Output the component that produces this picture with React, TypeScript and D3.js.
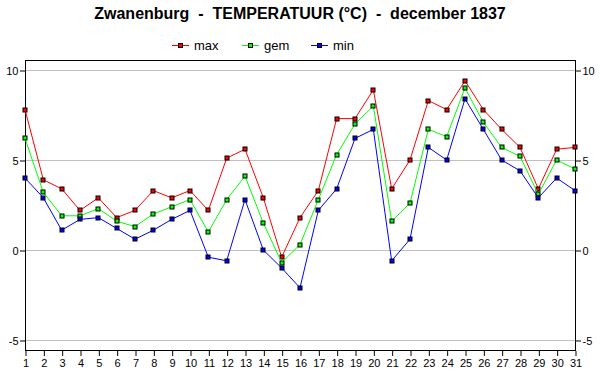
import React, { useEffect, useRef } from 'react';
import * as d3 from 'd3';

const days = d3.range(1, 32);
const maxTemp = [7.8, 3.9, 3.4, 2.2, 2.9, 1.8, 2.2, 3.3, 2.9, 3.3, 2.2, 5.1, 5.6, 2.9, -0.4, 1.8, 3.3, 7.3, 7.3, 8.9, 3.4, 5.0, 8.3, 7.8, 9.4, 7.8, 6.7, 5.7, 3.4, 5.6, 5.7];
const gemTemp = [6.2, 3.2, 1.9, 1.9, 2.3, 1.6, 1.3, 2.0, 2.4, 2.8, 1.0, 2.8, 4.1, 1.5, -0.7, 0.3, 2.8, 5.3, 7.0, 8.0, 1.6, 2.6, 6.7, 6.3, 9.0, 7.1, 5.7, 5.2, 3.1, 5.0, 4.5];
const minTemp = [4.0, 2.9, 1.1, 1.7, 1.8, 1.2, 0.6, 1.1, 1.7, 2.2, -0.4, -0.6, 2.8, 0.0, -1.0, -2.1, 2.2, 3.4, 6.2, 6.7, -0.6, 0.6, 5.7, 5.0, 8.4, 6.7, 5.0, 4.4, 2.9, 4.0, 3.3];
const yTicks = [-5, 0, 5, 10];

const series = [
  { name: 'max', color: '#ff0000', values: maxTemp },
  { name: 'gem', color: '#00ff00', values: gemTemp },
  { name: 'min', color: '#0000ff', values: minTemp },
];

const W = 600;
const H = 390;

const App: React.FC = () => {
  const svgRef = useRef<SVGSVGElement>(null);

  useEffect(() => {
    if (!svgRef.current) return;
    const root = d3.select(svgRef.current);
    root.selectAll('*').remove();

    const left = 25, right = 575, top = 60, bottom = 350;
    const font = '"Liberation Sans", Arial, sans-serif';

    const x = d3.scaleLinear().domain([1, 31]).range([left, right]);
    const y = d3.scaleLinear().domain([-5.556, 10.556]).range([bottom, top]);

    root.append('rect').attr('width', W).attr('height', H).attr('fill', '#ffffff');

    // title
    root.append('text')
      .attr('x', W / 2).attr('y', 19)
      .attr('text-anchor', 'middle')
      .attr('font-family', font).attr('font-size', 16).attr('font-weight', 'bold')
      .attr('fill', '#000')
      .style('white-space', 'pre')
      .text('Zwanenburg  -  TEMPERATUUR (°C)  -  december 1837');

    // legend
    const lg = root.append('g');
    const legendX = [172, 242, 311];
    series.forEach((s, i) => {
      const g = lg.append('g').attr('transform', `translate(${legendX[i]},45)`);
      g.append('line').attr('x1', 0).attr('x2', 17).attr('y1', 0.5).attr('y2', 0.5)
        .attr('stroke', s.color).attr('stroke-width', 1);
      g.append('rect').attr('x', 6.5).attr('y', -1.5).attr('width', 4).attr('height', 4)
        .attr('fill', s.color).attr('stroke', '#000').attr('stroke-width', 1);
      g.append('text').attr('x', 22).attr('y', 5)
        .attr('font-family', font).attr('font-size', 13).attr('fill', '#000')
        .text(s.name);
    });

    // gridlines
    root.append('g').selectAll('line').data(yTicks).enter().append('line')
      .attr('x1', left).attr('x2', right)
      .attr('y1', d => Math.round(y(d)) + 0.5).attr('y2', d => Math.round(y(d)) + 0.5)
      .attr('stroke', '#c0c0c0').attr('stroke-width', 1);

    // axes
    const fmt = (d: d3.NumberValue) => String(d);
    const styleAxis = (g: d3.Selection<SVGGElement, unknown, null, undefined>) => {
      g.select('.domain').remove();
      g.selectAll('line').attr('stroke', '#000');
      g.selectAll('text').attr('font-family', font).attr('font-size', 11).attr('fill', '#000');
    };

    root.append('g').attr('transform', `translate(${left},0.5)`)
      .call(d3.axisLeft(y).tickValues(yTicks).tickSize(5).tickPadding(1.5).tickFormat(fmt))
      .call(styleAxis);
    root.append('g').attr('transform', `translate(${right + 1},0.5)`)
      .call(d3.axisRight(y).tickValues(yTicks).tickSize(5).tickPadding(1.5).tickFormat(fmt))
      .call(styleAxis);
    root.append('g').attr('transform', `translate(0.5,${bottom + 1})`)
      .call(d3.axisBottom(x).tickValues(days).tickSize(5).tickPadding(3).tickFormat(fmt))
      .call(styleAxis);

    // frame
    root.append('rect')
      .attr('x', left + 0.5).attr('y', top + 0.5)
      .attr('width', right - left).attr('height', bottom - top)
      .attr('fill', 'none').attr('stroke', '#000').attr('stroke-width', 1);

    // series
    const line = d3.line<number>()
      .x((d, i) => x(days[i]))
      .y(d => y(d));

    series.forEach(s => {
      root.append('path').datum(s.values)
        .attr('d', line)
        .attr('fill', 'none').attr('stroke', s.color).attr('stroke-width', 1);
      root.append('g').selectAll('rect').data(s.values).enter().append('rect')
        .attr('x', (d, i) => Math.round(x(days[i])) - 2)
        .attr('y', d => Math.round(y(d)) - 2)
        .attr('width', 4).attr('height', 4)
        .attr('fill', s.color).attr('stroke', '#000').attr('stroke-width', 1);
    });
  }, []);

  return (
    <svg
      ref={svgRef}
      width={W}
      height={H}
      style={{ position: 'absolute', left: 0, top: 0, display: 'block' }}
    />
  );
};

export default App;
